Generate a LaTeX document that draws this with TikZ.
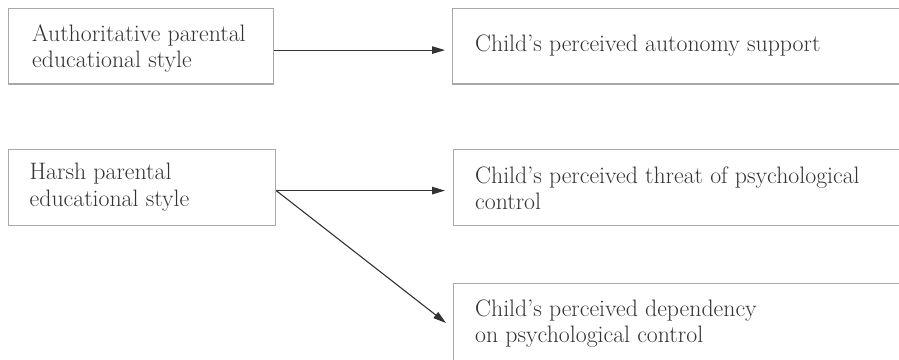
\documentclass[tikz,border=0pt]{standalone}
\usetikzlibrary{arrows.meta}
\definecolor{boxgray}{HTML}{A8A8A8}
\definecolor{ink}{HTML}{333333}
\begin{document}
\begin{tikzpicture}[x=1pt,y=1pt,
  box/.style={draw=boxgray,line width=1.2pt,fill=none,inner sep=0pt,anchor=north west},
  txt/.style={anchor=base west,inner sep=0pt,text=ink,font=\fontsize{23.8}{26}\selectfont},
  conn/.style={draw=ink,line width=1.1pt,-{Triangle[length=13pt,width=7.5pt]}}]
\useasboundingbox (0,0) rectangle (899,359);
\clip (0,0) rectangle (899,359);
% boxes (pixel y -> 359 - y)
\node[box,minimum width=265.5pt,minimum height=75.5pt] (A) at (7.5,351) {};
\node[box,minimum width=470pt,minimum height=75.5pt] (B) at (452,351) {};
\node[box,minimum width=267pt,minimum height=75.7pt] (C) at (8,209.7) {};
\node[box,minimum width=470pt,minimum height=75.7pt] (D) at (453,209.7) {};
\node[box,minimum width=470pt,minimum height=100pt] (E) at (453,76) {};
% texts
\node[txt] (A1) at (32,317) {Authoritative parental};
\node[txt] (A2) at (32,291) {educational style};
\node[txt] (B1) at (475,307) {Child's perceived autonomy support};
\node[txt] (C1) at (29.5,179) {Harsh parental};
\node[txt] (C2) at (29.5,152.3) {educational style};
\node[txt] (D1) at (475,175) {Child's perceived threat of psychological};
\node[txt] (D2) at (475,149) {control};
\node[txt] (E1) at (475,43) {Child's perceived dependency};
\node[txt] (E2) at (475,17) {on psychological control};
% connectors
\draw[conn,shorten >=7pt] ([yshift=-3.75pt]A.east) -- ([yshift=-3.75pt]B.west);
\draw[conn,shorten >=8pt] ([yshift=-2.85pt]C.east) -- ([yshift=-2.85pt]D.west);
\draw[conn] ([yshift=-2.85pt]C.east) -- ([xshift=-7pt,yshift=-40pt]E.north west);
\end{tikzpicture}
\end{document}
